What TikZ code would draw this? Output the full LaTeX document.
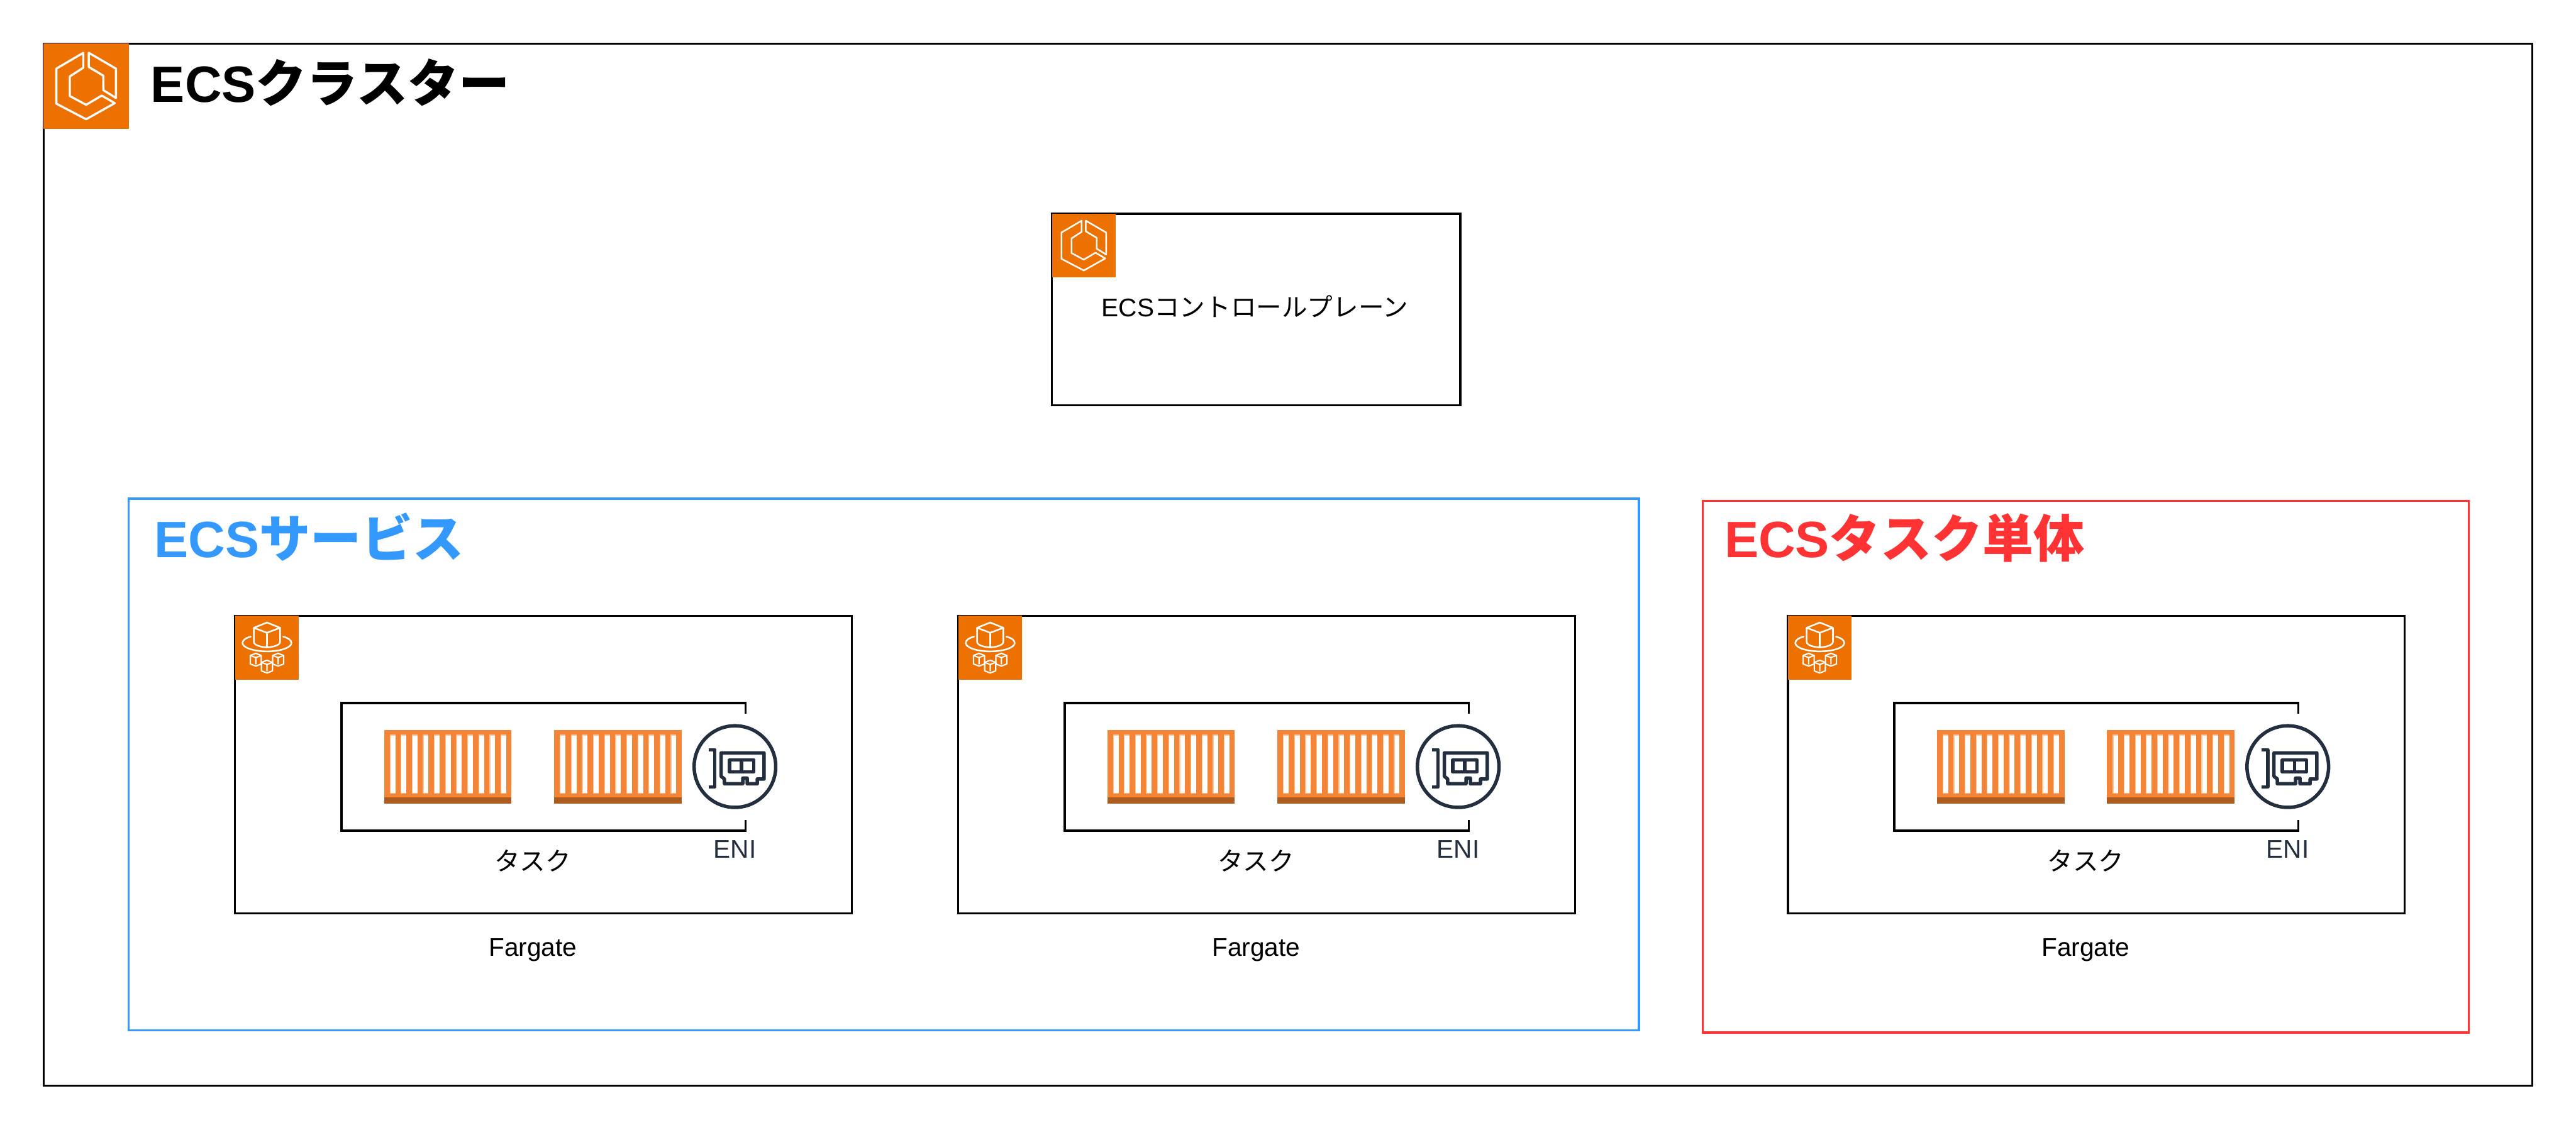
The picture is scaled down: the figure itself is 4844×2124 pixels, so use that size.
\documentclass[tikz,border=0pt]{standalone}
\usepackage{fontspec}
\setmainfont{Liberation Sans}
\newfontfamily\jpf{Noto Sans CJK JP}
\newcommand{\JP}[1]{{\jpf #1}}
\definecolor{awsorange}{HTML}{ED7100}
\definecolor{boxblue}{HTML}{3399FF}
\definecolor{boxred}{HTML}{FF3333}
\definecolor{crate}{HTML}{F58536}
\definecolor{cratedark}{HTML}{AD5C20}
\definecolor{cratepale}{HTML}{FAC49C}
\definecolor{enicolor}{HTML}{232F3E}
\tikzset{
  x=0.01cm,y=-0.01cm,
  frame/.style={draw=black,line width=0.04cm,fill=none},
  areablue/.style={draw=boxblue,line width=0.04cm},
  areared/.style={draw=boxred,line width=0.04cm},
  iconline/.style={draw=white,line width=#1,line join=round,line cap=round},
  eniline/.style={draw=enicolor,line width=0.065cm,line join=round},
  smalltext/.style={inner sep=0pt,font=\fontsize{13.66pt}{16pt}\selectfont},
  titletext/.style={inner sep=0pt,anchor=base west,font=\fontsize{27.3pt}{32pt}\selectfont\bfseries},
}
\newcommand{\EcsIcon}[4]{% x y scale width
  \begin{scope}[shift={(#1,#2)},scale=#3]
    \fill[awsorange] (0,0) rectangle (120,120);
    \draw[iconline=#4] (56,13) -- (18,35.3) -- (18,84.7) -- (60,106.7) -- (100.3,84) -- (82,73.3) -- (60,86.3) -- (37,74) -- (37,46.3) -- (56,34) -- cycle;
    \draw[iconline=#4] (63.7,13) -- (102,35.3) -- (102,76.7) -- (84.3,65.7) -- (84.3,45.3) -- (63.7,33) -- cycle;
  \end{scope}}
\newcommand{\TinyCube}[2]{%
  \begin{scope}[shift={(#1,#2)}]
    \draw[iconline=0.025cm,fill=awsorange] (0,-12) -- (10.3,-8) -- (10.3,8) -- (0,12) -- (-10.3,8) -- (-10.3,-8) -- cycle;
    \draw[iconline=0.025cm] (-10.3,-8) -- (0,-4) -- (10.3,-8) (0,-4) -- (0,8);
  \end{scope}}
\newcommand{\FargateIcon}[2]{%
  \begin{scope}[shift={(#1,#2)}]
    \fill[awsorange] (0,0) rectangle (120,120);
    \draw[iconline=0.03cm] (29.7,39.3) .. controls (20,41.5) and (14,46) .. (14,51.3) .. controls (14,60) and (35,67) .. (60,67) .. controls (85,67) and (106,60) .. (106,51.3) .. controls (106,46) and (100,41.5) .. (90.3,39.3);
    \draw[iconline=0.03cm] (60,12.7) -- (84.7,22.7) -- (60,32) -- (35.3,22.7) -- cycle;
    \draw[iconline=0.03cm] (60,32) -- (60,59.3);
    \draw[iconline=0.03cm] (35.3,22.7) -- (35.3,49) .. controls (35.3,55) and (48,59.3) .. (60,59.3) .. controls (72,59.3) and (84.7,55) .. (84.7,49) -- (84.7,22.7);
    \TinyCube{39}{82.7}
    \TinyCube{81}{82.7}
    \TinyCube{60}{95.7}
  \end{scope}}
\newcommand{\CrateIcon}[2]{%
  \begin{scope}[shift={(#1,#2)}]
    \fill[crate] (0,0) rectangle (240,126);
    \fill[cratedark] (0,126) rectangle (240,138);
    \foreach \k in {0,...,10}{
      \fill[cratepale] ({10.7+20.85*\k},8.5) rectangle ({21.3+20.85*\k},119);
      \fill[white] ({12.2+20.85*\k},10.3) rectangle ({21.3+20.85*\k},118.7);
    }
  \end{scope}}
\newcommand{\EniIcon}[2]{%
  \begin{scope}[shift={(#1,#2)}]
    \draw[eniline] (0,0) circle[radius=0.767cm];
    \draw[eniline] (-49.7,-31.7) -- (-37.7,-31.7) -- (-37.7,38.3) -- (-49.7,38.3);
    \draw[eniline] (-26,-25.7) -- (54.7,-25.7) -- (54.7,23.3) -- (42,23.3) -- (42,32.3) -- (23,32.3) -- (23,21.7) -- (14.7,21.7) -- (14.7,32.3) -- (-19.7,32.3) -- (-19.7,23.3) -- (-26,18.3) -- cycle;
    \draw[eniline] (-10.3,-12.7) rectangle (35.3,10);
    \draw[eniline] (12.5,-12.7) -- (12.5,10);
  \end{scope}}
\newcommand{\FargateUnit}[3]{% x, name suffix
  \draw[frame] (#1,1158) rectangle ++(1160,560);
  \FargateIcon{#1}{1158}
  \draw[frame] (#1+960,1342) -- (#1+960,1322) -- (#1+200,1322) -- (#1+200,1562) -- (#1+960,1562) -- (#1+960,1542);
  \CrateIcon{#1+280}{1373}
  \CrateIcon{#1+600}{1373}
  \EniIcon{#1+940}{1441.7}
  \node[smalltext,text=enicolor,anchor=base] (eni#2) at (#1+940,1614) {ENI};
  \node[smalltext,anchor=base] (task#2) at (#1+560,1637) {\JP{タスク}};
  \node[smalltext,anchor=base] (farg#2) at (#1+560,1798) {Fargate};
}
\begin{document}
\begin{tikzpicture}
  \useasboundingbox (0,0) rectangle (4844,2124);
  \fill[white] (0,0) rectangle (4844,2124);
  \draw[frame] (82,82) rectangle (4762,2042);
  \EcsIcon{82}{82}{1.3333}{0.04cm}
  \node[titletext] (clustertitle) at (283,192) {ECS\JP{\bfseries クラスター}};
  \draw[frame] (1978,402) rectangle (2746,762);
  \EcsIcon{1978}{402}{1}{0.03cm}
  \node[smalltext,anchor=base] (planetitle) at (2360,595) {ECS\JP{コントロールプレーン}};
  \draw[areablue] (242,938) rectangle (3082,1938);
  \node[titletext,text=boxblue] (servicetitle) at (290,1048) {ECS\JP{\bfseries サービス}};
  \draw[areared] (3202,942) rectangle (4642,1942);
  \node[titletext,text=boxred] (singletitle) at (3242,1048) {ECS\JP{\bfseries タスク単体}};
  \FargateUnit{442}{a}{}
  \FargateUnit{1802}{b}{}
  \FargateUnit{3362}{c}{}
\end{tikzpicture}
\end{document}
